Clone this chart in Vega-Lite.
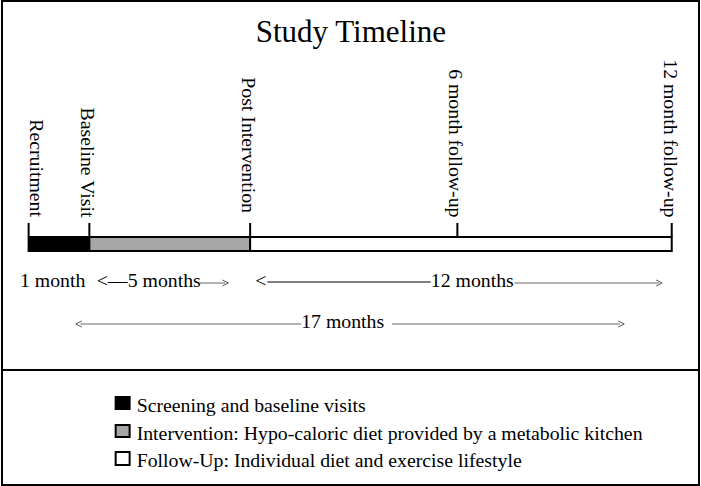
{
  "$schema": "https://vega.github.io/schema/vega-lite/v6.json",
  "width": 701,
  "height": 486,
  "autosize": {"type": "fit", "contains": "padding"},
  "padding": 1,
  "background": "white",
  "config": {
    "view": {"stroke": "black", "strokeWidth": 2},
    "text": {"font": "Liberation Serif", "fontSize": 19.8, "color": "black"}
  },
  "datasets": {
    "title": [{"label": "Study Timeline", "x": 9.02, "y": 42}],
    "phases": [
      {"label": "Screening and baseline visits", "x": 0, "x2": 1.7, "y": 237, "y2": 251},
      {"label": "Intervention: Hypo-caloric diet provided by a metabolic kitchen", "x": 1.7, "x2": 6.2, "y": 237, "y2": 251},
      {"label": "Follow-Up: Individual diet and exercise lifestyle", "x": 6.2, "x2": 18, "y": 237, "y2": 251}
    ],
    "ticks": [
      {"x": 0, "y": 223, "y2": 237},
      {"x": 1.7, "y": 223, "y2": 237},
      {"x": 6.2, "y": 223, "y2": 237},
      {"x": 12, "y": 223, "y2": 237},
      {"x": 18, "y": 223, "y2": 237}
    ],
    "milestones": [
      {"label": "Recruitment", "x": 0, "y": 217},
      {"label": "Baseline Visit", "x": 1.7, "y": 217.5},
      {"label": "Post Intervention", "x": 6.2, "y": 213},
      {"label": "6 month follow-up", "x": 12, "y": 217.5},
      {"label": "12 month follow-up", "x": 18, "y": 217.5}
    ],
    "durText": [
      {"label": "1 month", "x": -0.243, "y": 287},
      {"label": "<—5 months", "x": 1.906, "y": 287},
      {"label": "<", "x": 6.344, "y": 287},
      {"label": "12 months", "x": 11.256, "y": 287},
      {"label": "17 months", "x": 7.628, "y": 328}
    ],
    "blackLines": [
      {"x": 6.679, "x2": 11.256, "y": 282}
    ],
    "grayLines": [
      {"x": 4.754, "x2": 5.5, "y": 283},
      {"x": 13.6, "x2": 17.64, "y": 283},
      {"x": 1.45, "x2": 7.628, "y": 324},
      {"x": 10.167, "x2": 16.55, "y": 324}
    ],
    "rightHeads": [
      {"x": 5.507, "y": 283},
      {"x": 17.647, "y": 283},
      {"x": 16.587, "y": 324}
    ],
    "leftHeads": [
      {"x": 1.404, "y": 324}
    ],
    "divider": [{"x": -0.745, "x2": 18.763, "y": 370}],
    "legendBoxes": [
      {"label": "Screening and baseline visits", "x": 2.436, "x2": 2.827, "y": 397, "y2": 409},
      {"label": "Intervention: Hypo-caloric diet provided by a metabolic kitchen", "x": 2.436, "x2": 2.827, "y": 425, "y2": 437},
      {"label": "Follow-Up: Individual diet and exercise lifestyle", "x": 2.436, "x2": 2.827, "y": 452, "y2": 465}
    ],
    "legendText": [
      {"label": "Screening and baseline visits", "x": 3.023, "y": 412},
      {"label": "Intervention: Hypo-caloric diet provided by a metabolic kitchen", "x": 3.023, "y": 440},
      {"label": "Follow-Up: Individual diet and exercise lifestyle", "x": 3.023, "y": 467}
    ]
  },
  "encoding": {
    "x": {"field": "x", "type": "quantitative", "scale": {"domain": [-0.745, 18.763], "nice": false, "zero": false}, "axis": null},
    "y": {"field": "y", "type": "quantitative", "scale": {"domain": [1, 485], "reverse": true, "nice": false, "zero": false}, "axis": null}
  },
  "layer": [
    {
      "data": {"name": "title"},
      "mark": {"type": "text", "fontSize": 31, "align": "center", "baseline": "alphabetic"},
      "encoding": {"text": {"field": "label"}}
    },
    {
      "data": {"name": "phases"},
      "mark": {"type": "rect", "stroke": "black", "strokeWidth": 2},
      "encoding": {
        "x2": {"field": "x2"},
        "y2": {"field": "y2"},
        "color": {"field": "label", "type": "nominal", "scale": {"domain": ["Screening and baseline visits", "Intervention: Hypo-caloric diet provided by a metabolic kitchen", "Follow-Up: Individual diet and exercise lifestyle"], "range": ["#000000", "#a6a6a6", "#ffffff"]}, "legend": null}
      }
    },
    {
      "data": {"name": "ticks"},
      "mark": {"type": "rule", "color": "black", "strokeWidth": 2},
      "encoding": {"y2": {"field": "y2"}}
    },
    {
      "data": {"name": "milestones"},
      "transform": [{"filter": "datum.label === 'Recruitment'"}],
      "mark": {"type": "text", "angle": 90, "align": "right", "baseline": "alphabetic", "dy": -1},
      "encoding": {"text": {"field": "label"}}
    },
    {
      "data": {"name": "milestones"},
      "transform": [{"filter": "datum.label !== 'Recruitment'"}],
      "mark": {"type": "text", "angle": 90, "align": "right", "baseline": "alphabetic", "dy": 8},
      "encoding": {"text": {"field": "label"}}
    },
    {
      "data": {"name": "durText"},
      "mark": {"type": "text", "align": "left", "baseline": "alphabetic"},
      "encoding": {"text": {"field": "label"}}
    },
    {
      "data": {"name": "blackLines"},
      "mark": {"type": "rule", "color": "black", "strokeWidth": 1.2},
      "encoding": {"x2": {"field": "x2"}}
    },
    {
      "data": {"name": "grayLines"},
      "mark": {"type": "rule", "color": "#666666", "strokeWidth": 1},
      "encoding": {"x2": {"field": "x2"}}
    },
    {
      "data": {"name": "rightHeads"},
      "mark": {"type": "point", "shape": "M-1,-1L1,0L-1,1", "filled": false, "stroke": "#555555", "strokeWidth": 1, "size": 36, "opacity": 1},
      "encoding": {}
    },
    {
      "data": {"name": "leftHeads"},
      "mark": {"type": "point", "shape": "M1,-1L-1,0L1,1", "filled": false, "stroke": "#555555", "strokeWidth": 1, "size": 36, "opacity": 1},
      "encoding": {}
    },
    {
      "data": {"name": "divider"},
      "mark": {"type": "rule", "color": "black", "strokeWidth": 2},
      "encoding": {"x2": {"field": "x2"}}
    },
    {
      "data": {"name": "legendBoxes"},
      "mark": {"type": "rect", "stroke": "black", "strokeWidth": 2},
      "encoding": {
        "x2": {"field": "x2"},
        "y2": {"field": "y2"},
        "color": {"field": "label", "type": "nominal", "legend": null}
      }
    },
    {
      "data": {"name": "legendText"},
      "mark": {"type": "text", "align": "left", "baseline": "alphabetic"},
      "encoding": {"text": {"field": "label"}}
    }
  ]
}
